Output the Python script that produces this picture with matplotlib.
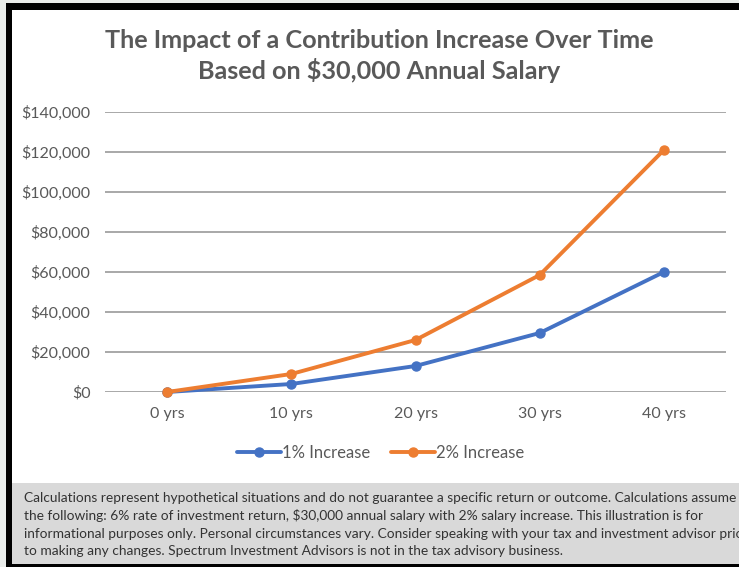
import matplotlib.pyplot as plt
from matplotlib.patches import Rectangle
from matplotlib.ticker import FuncFormatter

# chart data
periods = ['0 yrs', '10 yrs', '20 yrs', '30 yrs', '40 yrs']
increase_1pct = [0, 4000, 13000, 29500, 60000]
increase_2pct = [0, 9000, 26000, 58500, 121000]
series_names = ['1% Increase', '2% Increase']
series_colors = ['#4472C4', '#ED7D31']

title_lines = 'The Impact of a Contribution Increase Over Time\nBased on $30,000 Annual Salary'
disclaimer = [
    'Calculations represent hypothetical situations and do not guarantee a specific return or outcome. Calculations assume',
    'the following: 6% rate of investment return, $30,000 annual salary with 2% salary increase. This illustration is for',
    'informational purposes only. Personal circumstances vary. Consider speaking with your tax and investment advisor prior',
    'to making any changes. Spectrum Investment Advisors is not in the tax advisory business.',
]

W, H = 739, 567
TEXT_GRAY = '#595959'
plt.rcParams['font.family'] = ['Lato', 'DejaVu Sans']


def px(x, y):
    """pixel position (top-left origin) -> figure fraction"""
    return x / W, 1 - y / H


fig = plt.figure(figsize=(W / 100, H / 100), dpi=100, facecolor='#e9ecea')

# frame: black border, white chart area (kept behind the axes)
x0, y0 = px(6, 567)
fig.patches.append(Rectangle((x0, y0), 1 - x0, 1 - 3 / H, transform=fig.transFigure,
                             facecolor='black', edgecolor='none', zorder=-2))
x0, y0 = px(12, 564)
fig.patches.append(Rectangle((x0, y0), 1 - x0, (564 - 9.5) / H, transform=fig.transFigure,
                             facecolor='white', edgecolor='none', zorder=-1))

# main plot area
left, bottom = px(105, 392)
right, top = px(726, 112)
ax = fig.add_axes([left, bottom, right - left, top - bottom])
ax.set_facecolor('none')

x = range(len(periods))
for vals, name, color in zip([increase_1pct, increase_2pct], series_names, series_colors):
    ax.plot(x, vals, color=color, lw=2.8, marker='o', markersize=6.5,
            label=name, solid_capstyle='round', zorder=3, clip_on=False)

ax.set_xlim(-0.5, len(periods) - 0.5)
ax.set_ylim(0, 140000)
ax.set_yticks(range(0, 140001, 20000))
ax.yaxis.set_major_formatter(FuncFormatter(lambda v, _: f'${v:,.0f}'))
ax.set_xticks(list(x))
ax.set_xticklabels(periods)
ax.grid(axis='y', color='#999999', lw=1.2)
ax.set_axisbelow(True)
for s in ax.spines.values():
    s.set_visible(False)
ax.tick_params(length=0, labelsize=11.5, colors=TEXT_GRAY)
ax.tick_params(axis='y', pad=10.5)
ax.tick_params(axis='x', pad=11)

fig.text(*px(379, 56), title_lines, ha='center', va='center', fontsize=18.2,
         fontweight='bold', color=TEXT_GRAY, linespacing=1.25)

leg = fig.legend(loc='center', bbox_to_anchor=px(381, 453), ncol=2, frameon=False,
                 fontsize=12, handlelength=2.6, handletextpad=0.1, columnspacing=1.25)
for t in leg.get_texts():
    t.set_color(TEXT_GRAY)

# disclaimer box along the bottom
bl, bb = px(12, 564)
note_ax = fig.add_axes([bl, bb, 1 - bl, (564 - 483) / H])
note_ax.set_facecolor('#d9d9d9')
note_ax.set_xticks([])
note_ax.set_yticks([])
for s in note_ax.spines.values():
    s.set_visible(False)
for i, line in enumerate(disclaimer):
    note_ax.text(*px(24, 498 + 17.8 * i), line, transform=fig.transFigure, ha='left',
                 va='center', fontsize=9.9, color='#333333', clip_on=True)

fig.savefig('out.png', dpi=100, facecolor=fig.get_facecolor())
